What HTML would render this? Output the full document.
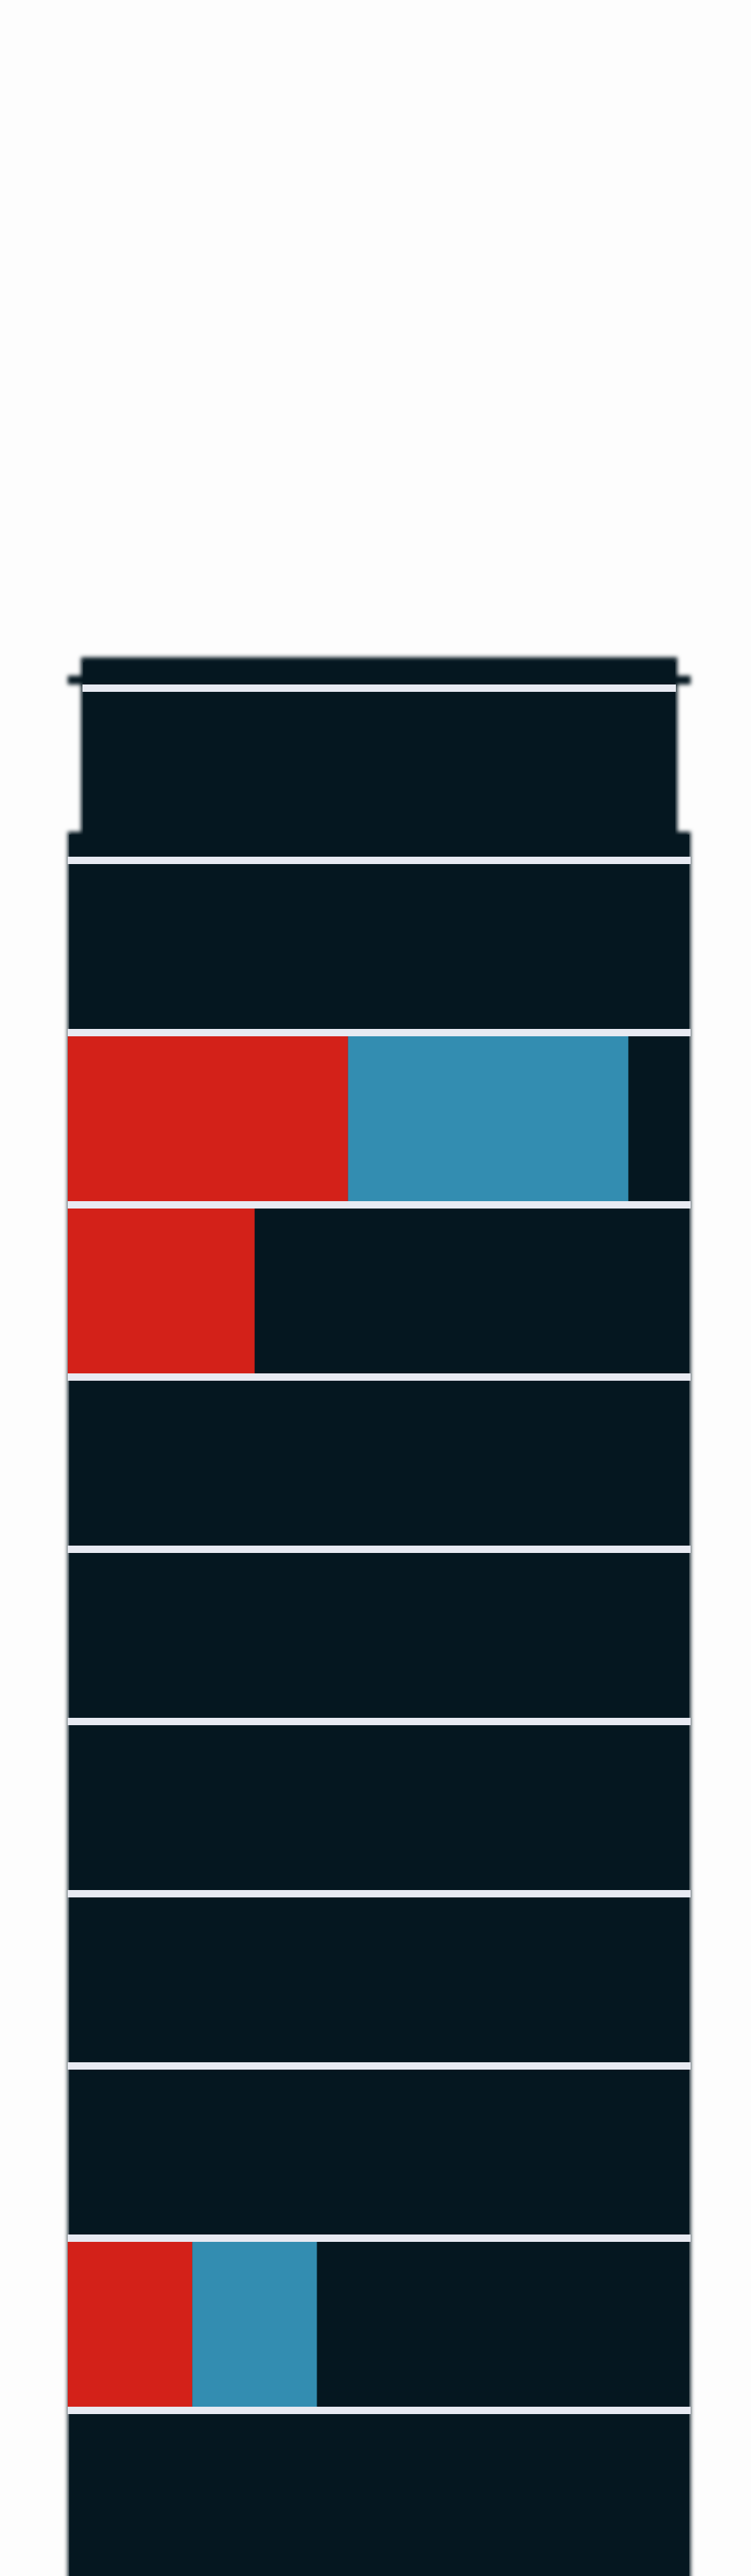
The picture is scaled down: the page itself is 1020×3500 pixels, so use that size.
<!DOCTYPE html>
<html><head><meta charset="utf-8">
<style>
html,body{margin:0;padding:0;background:#fdfdfd;width:1020px;height:3500px;overflow:hidden;position:relative;font-family:"Liberation Sans",sans-serif}
.blk{position:absolute;background:#051720}
.soft{filter:blur(3px)}
</style></head>
<body>
<div class="blk soft" style="left:110px;top:893px;width:810px;height:260px"></div>
<div class="blk soft" style="left:92px;top:918px;width:846px;height:12px"></div>
<div class="blk soft" style="left:92px;top:1130px;width:846px;height:2400px"></div>
<div class="blk" style="left:113px;top:900px;width:804px;height:260px"></div>
<div class="blk" style="left:94px;top:1134px;width:842px;height:2380px"></div>
<svg id="chart" width="1020" height="3500" style="position:absolute;left:0;top:0"></svg>
<script>
const categories = ["row-0","row-1","row-2","row-3","row-4","row-5","row-6","row-7","row-8","row-9","row-10"];
const redValues  = [0,0,45,30,0,0,0,0,0,20,0];
const blueValues = [0,0,45,0,0,0,0,0,0,20,0];
const xMax = 100;

const svg = document.getElementById('chart');
const NS = 'http://www.w3.org/2000/svg';
const x0 = 92, x1 = 938, yTop = 930, step = 234, lineH = 10;
function xScale(v){ return x0 + (v / xMax) * (x1 - x0); }
function rowY(i){ return yTop + i * step + lineH; }

categories.forEach((c, i) => {
  const y = rowY(i);
  const h = step - lineH;
  const r = redValues[i], b = blueValues[i];
  if (r > 0) {
    const el = document.createElementNS(NS, 'rect');
    el.setAttribute('x', xScale(0)); el.setAttribute('y', y);
    el.setAttribute('width', xScale(r) - xScale(0)); el.setAttribute('height', h);
    el.setAttribute('fill', '#d32119');
    
    
    svg.appendChild(el);
  }
  if (b > 0) {
    const el = document.createElementNS(NS, 'rect');
    el.setAttribute('x', xScale(r)); el.setAttribute('y', y);
    el.setAttribute('width', xScale(r + b) - xScale(r)); el.setAttribute('height', h);
    el.setAttribute('fill', '#338db1');
    
    
    svg.appendChild(el);
  }
});
for (let k = 0; k < categories.length; k++) {
  const y = yTop + k * step;
  const ln = document.createElementNS(NS, 'rect');
  const lx = k === 0 ? 112 : x0;
  const rx = k === 0 ? 918 : x1;
  ln.setAttribute('x', lx); ln.setAttribute('y', y);
  ln.setAttribute('width', rx - lx); ln.setAttribute('height', lineH);
  ln.setAttribute('fill', '#e8eaf2');
  
  
  svg.appendChild(ln);
}
</script>
</body></html>
